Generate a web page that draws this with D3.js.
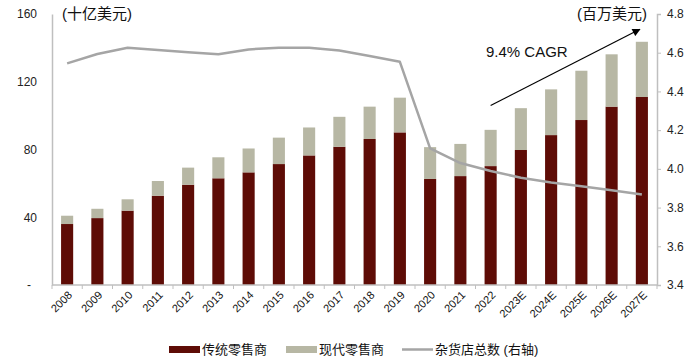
<!DOCTYPE html>
<html>
<head>
<meta charset="utf-8">
<script src="https://cdn.jsdelivr.net/npm/d3@7"></script>
<style>
  body { margin: 0; background: #fff; }
  text { font-family: "Liberation Sans", Arial, "Noto Sans CJK SC", sans-serif; }
</style>
</head>
<body>
<div id="chart-area"></div>
<script>
// data
const years = ["2008", "2009", "2010", "2011", "2012", "2013", "2014", "2015", "2016", "2017",
  "2018", "2019", "2020", "2021", "2022", "2023E", "2024E", "2025E", "2026E", "2027E"];
const traditional = [36.0, 39.5, 43.9, 52.7, 59.2, 63.0, 66.5, 71.4, 76.5, 81.6,
  86.2, 90.1, 62.6, 64.3, 70.2, 79.7, 88.5, 97.4, 105.3, 111.0];
const totals = [40.9, 45.0, 50.6, 61.4, 69.3, 75.4, 80.6, 87.0, 93.0, 99.3,
  105.3, 110.6, 81.4, 83.3, 91.6, 104.4, 115.5, 126.5, 136.2, 143.6];
const modern = totals.map((t, i) => +(t - traditional[i]).toFixed(1));
const stores = [4.545, 4.593, 4.626, 4.614, 4.602, 4.592, 4.617, 4.626, 4.626, 4.611,
  4.583, 4.553, 4.106, 4.03, 3.989, 3.954, 3.93, 3.91, 3.889, 3.868];
const leftTicks = [0, 40, 80, 120, 160];
const rightTicks = [3.4, 3.6, 3.8, 4.0, 4.2, 4.4, 4.6, 4.8];

const W = 700, H = 362;
const margins = { top: 14, right: 43, bottom: 77, left: 52 };

const darkRed = "#5e0c06";
const khaki = "#b7b7a4";
const lineGrey = "#a5a5a5";
const axisGrey = "#bfbfbf";

const svg = d3.select("#chart-area").append("svg")
  .attr("width", W).attr("height", H);

// scales
const xo = d3.scaleBand().domain(years).range([margins.left, W - margins.right]).padding(0);
const x = d3.scaleBand().domain(years).range([margins.left, W - margins.right])
  .paddingInner(0.6).paddingOuter(0.3);
const yL = d3.scaleLinear().domain([0, 160]).range([H - margins.bottom, margins.top]);
const yR = d3.scaleLinear().domain([3.4, 4.8]).range([H - margins.bottom, margins.top]);

// bars
const stack = d3.stack().keys(["traditional", "modern"])(
  years.map((y, i) => ({ year: y, traditional: traditional[i], modern: modern[i] }))
);
const colors = [darkRed, khaki];

svg.append("g").selectAll("g").data(stack).join("g")
  .attr("fill", (d, i) => colors[i])
  .selectAll("rect").data(d => d).join("rect")
  .attr("x", d => x(d.data.year))
  .attr("width", x.bandwidth())
  .attr("y", d => yL(d[1]))
  .attr("height", d => yL(d[0]) - yL(d[1]));

// line
const line = d3.line()
  .x((d, i) => x(years[i]) + x.bandwidth() / 2)
  .y(d => yR(d));
svg.append("path").datum(stores)
  .attr("fill", "none")
  .attr("stroke", lineGrey)
  .attr("stroke-width", 2.5)
  .attr("stroke-linejoin", "round")
  .attr("d", line);

// left axis
const yAxisL = svg.append("g")
  .attr("transform", `translate(${margins.left},0)`)
  .call(d3.axisLeft(yL).tickValues(leftTicks).tickSize(0).tickPadding(15)
    .tickFormat(d => d === 0 ? "-" : d));
yAxisL.select(".domain").attr("stroke", axisGrey).attr("stroke-width", 1.5);
yAxisL.selectAll("text").attr("font-size", 12).attr("fill", "#222")
  .attr("font-family", "Liberation Sans, Arial, sans-serif")
  .attr("dx", d => d === 0 ? -6 : 0);

// right axis
const yAxisR = svg.append("g")
  .attr("transform", `translate(${W - margins.right},0)`)
  .call(d3.axisRight(yR).tickValues(rightTicks).tickSize(4).tickPadding(6)
    .tickFormat(d3.format(".1f")));
yAxisR.select(".domain").attr("stroke", axisGrey).attr("stroke-width", 1.5);
yAxisR.selectAll(".tick line").attr("stroke", axisGrey);
yAxisR.selectAll("text").attr("font-size", 12).attr("fill", "#222")
  .attr("font-family", "Liberation Sans, Arial, sans-serif");

// bottom axis
const base = H - margins.bottom;
svg.append("line")
  .attr("x1", margins.left).attr("x2", W - margins.right)
  .attr("y1", base).attr("y2", base)
  .attr("stroke", axisGrey).attr("stroke-width", 1.5);
svg.append("g").selectAll("line").data(years.concat(["end"])).join("line")
  .attr("x1", d => d === "end" ? W - margins.right : xo(d))
  .attr("x2", d => d === "end" ? W - margins.right : xo(d))
  .attr("y1", base).attr("y2", base + 4)
  .attr("stroke", axisGrey);
svg.append("g").selectAll("text").data(years).join("text")
  .attr("transform", d => `translate(${x(d) + x.bandwidth() / 2 + 3},${base + 8}) rotate(-45)`)
  .attr("text-anchor", "end")
  .attr("dy", "0.35em")
  .attr("font-size", 11)
  .attr("fill", "#111")
  .text(d => d);

// unit titles
svg.append("text")
  .attr("x", 62).attr("y", 19)
  .attr("font-size", 15).attr("fill", "#111")
  .text("(十亿美元)");
svg.append("text")
  .attr("x", 647).attr("y", 19)
  .attr("text-anchor", "end")
  .attr("font-size", 15).attr("fill", "#111")
  .text("(百万美元)");

// CAGR arrow
svg.append("defs").append("marker")
  .attr("id", "arrow")
  .attr("viewBox", "0 0 10 10")
  .attr("refX", 9).attr("refY", 5)
  .attr("markerWidth", 9).attr("markerHeight", 8)
  .attr("markerUnits", "userSpaceOnUse")
  .attr("orient", "auto")
  .append("path").attr("d", "M0,0 L10,5 L0,10 Z").attr("fill", "#000");
svg.append("line")
  .attr("x1", x("2022") + x.bandwidth() / 2)
  .attr("y1", yL(106))
  .attr("x2", x("2027E") + 4)
  .attr("y2", yL(151))
  .attr("stroke", "#000").attr("stroke-width", 1.2)
  .attr("marker-end", "url(#arrow)");
svg.append("text")
  .attr("x", 486).attr("y", 57)
  .attr("font-size", 15).attr("fill", "#111")
  .text("9.4% CAGR");

// legend
const legend = svg.append("g").attr("transform", "translate(0,349)");
legend.append("rect").attr("x", 169).attr("y", -3).attr("width", 31).attr("height", 7).attr("fill", darkRed);
legend.append("text").attr("x", 202).attr("y", 0).attr("dy", "0.35em").attr("font-size", 13).attr("fill", "#111").text("传统零售商");
legend.append("rect").attr("x", 286).attr("y", -3).attr("width", 31).attr("height", 7).attr("fill", khaki);
legend.append("text").attr("x", 319).attr("y", 0).attr("dy", "0.35em").attr("font-size", 13).attr("fill", "#111").text("现代零售商");
legend.append("line").attr("x1", 402).attr("x2", 433).attr("y1", 0.5).attr("y2", 0.5).attr("stroke", lineGrey).attr("stroke-width", 2.5);
legend.append("text").attr("x", 435).attr("y", 0).attr("dy", "0.35em").attr("font-size", 13).attr("fill", "#111").text("杂货店总数 (右轴)");
</script>
</body>
</html>
